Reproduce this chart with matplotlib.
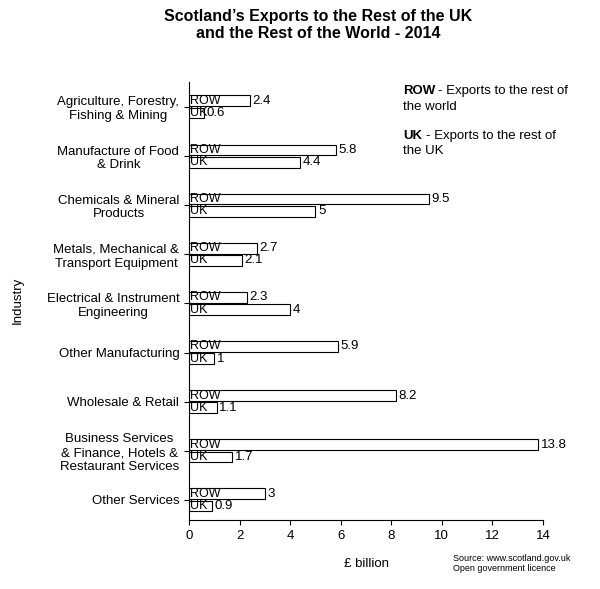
import matplotlib
matplotlib.use("Agg")
import matplotlib.pyplot as plt

plt.rcParams['font.family'] = ['Liberation Sans', 'DejaVu Sans']

categories = ["Agriculture, Forestry,\nFishing & Mining", "Manufacture of Food\n& Drink",
              "Chemicals & Mineral\nProducts", "Metals, Mechanical &\nTransport Equipment",
              "Electrical & Instrument\nEngineering", "Other Manufacturing",
              "Wholesale & Retail", "Business Services\n& Finance, Hotels &\nRestaurant Services",
              "Other Services"]
row_vals = [2.4, 5.8, 9.5, 2.7, 2.3, 5.9, 8.2, 13.8, 3]
uk_vals = [0.6, 4.4, 5, 2.1, 4, 1, 1.1, 1.7, 0.9]
xticks = [0, 2, 4, 6, 8, 10, 12, 14]

fig = plt.figure(figsize=(6, 5.89), dpi=100)
ax = fig.add_axes([0.315, 0.117, 0.59, 0.744])
h = 0.22
off = 0.125
for i, (r, u) in enumerate(zip(row_vals, uk_vals)):
    ax.barh(i - off, r, height=h, color='white', edgecolor='black', linewidth=0.8)
    ax.barh(i + off, u, height=h, color='white', edgecolor='black', linewidth=0.8)
    ax.text(0.02, i - off, "ROW", va='center', ha='left', fontsize=9)
    ax.text(0.02, i + off, "UK", va='center', ha='left', fontsize=9)
    ax.text(r + 0.1, i - off, f"{r:g}", va='center', ha='left', fontsize=9.5)
    ax.text(u + 0.1, i + off, f"{u:g}", va='center', ha='left', fontsize=9.5)

ax.set_xlim(0, 14)
ax.set_ylim(8.41, -0.51)
ax.set_xticks(xticks)
ax.set_yticks(range(len(categories)))
ax.set_yticklabels(categories, fontsize=9.5, multialignment='center')
ax.tick_params(axis='both', labelsize=9.5)
for s in ['top', 'right']:
    ax.spines[s].set_visible(False)
ax.set_xlabel("£ billion", fontsize=9.5, labelpad=12)
fig.text(0.02, 0.49, "Industry", rotation=90, fontsize=9.5, va='center')
fig.text(0.53, 0.985, "Scotland\u2019s Exports to the Rest of the UK\nand the Rest of the World - 2014",
         ha='center', va='top', fontsize=11.5, fontweight='bold')
fig.text(0.672, 0.855, "ROW", fontsize=9.5, fontweight='bold', va='top')
fig.text(0.73, 0.855, "- Exports to the rest of", fontsize=9.5, va='top')
fig.text(0.672, 0.828, "the world", fontsize=9.5, va='top')
fig.text(0.672, 0.78, "UK", fontsize=9.5, fontweight='bold', va='top')
fig.text(0.71, 0.78, "- Exports to the rest of", fontsize=9.5, va='top')
fig.text(0.672, 0.753, "the UK", fontsize=9.5, va='top')
fig.text(0.755, 0.043, "Source: www.scotland.gov.uk\nOpen government licence", fontsize=6.5, va='center')
fig.savefig("out.png", dpi=100, facecolor='white')
